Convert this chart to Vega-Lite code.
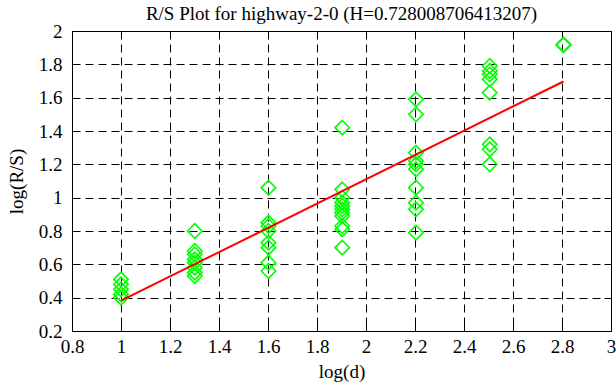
{
  "$schema": "https://vega.github.io/schema/vega-lite/v6.json",
  "width": 539,
  "height": 300,
  "autosize": "none",
  "padding": {"left": 72, "top": 31, "right": 5, "bottom": 56},
  "background": "white",
  "config": {
    "font": "Liberation Serif",
    "view": {"stroke": "black", "strokeWidth": 1},
    "axis": {"labelFont": "Liberation Serif", "titleFont": "Liberation Serif", "labelFontSize": 19, "titleFontSize": 19, "titleFontWeight": "normal", "labelColor": "black", "titleColor": "black", "domain": false}
  },
  "title": {"text": "R/S Plot for highway-2-0 (H=0.728008706413207)", "font": "Liberation Serif", "fontSize": 19, "fontWeight": "normal", "color": "black", "anchor": "middle", "offset": 7, "dy": 9},
  "datasets": {
    "points": [
      {"logd": 1.0, "logrs": 0.51}, {"logd": 1.0, "logrs": 0.48}, {"logd": 1.0, "logrs": 0.45}, {"logd": 1.0, "logrs": 0.42}, {"logd": 1.0, "logrs": 0.40},
      {"logd": 1.301, "logrs": 0.80}, {"logd": 1.301, "logrs": 0.68}, {"logd": 1.301, "logrs": 0.66}, {"logd": 1.301, "logrs": 0.63}, {"logd": 1.301, "logrs": 0.61}, {"logd": 1.301, "logrs": 0.58}, {"logd": 1.301, "logrs": 0.55}, {"logd": 1.301, "logrs": 0.53},
      {"logd": 1.602, "logrs": 1.06}, {"logd": 1.602, "logrs": 0.85}, {"logd": 1.602, "logrs": 0.83}, {"logd": 1.602, "logrs": 0.80}, {"logd": 1.602, "logrs": 0.73}, {"logd": 1.602, "logrs": 0.70}, {"logd": 1.602, "logrs": 0.61}, {"logd": 1.602, "logrs": 0.56},
      {"logd": 1.903, "logrs": 1.42}, {"logd": 1.903, "logrs": 1.05}, {"logd": 1.903, "logrs": 1.00}, {"logd": 1.903, "logrs": 0.97}, {"logd": 1.903, "logrs": 0.95}, {"logd": 1.903, "logrs": 0.93}, {"logd": 1.903, "logrs": 0.91}, {"logd": 1.903, "logrs": 0.89}, {"logd": 1.903, "logrs": 0.83}, {"logd": 1.903, "logrs": 0.81}, {"logd": 1.903, "logrs": 0.70},
      {"logd": 2.204, "logrs": 1.59}, {"logd": 2.204, "logrs": 1.50}, {"logd": 2.204, "logrs": 1.27}, {"logd": 2.204, "logrs": 1.22}, {"logd": 2.204, "logrs": 1.20}, {"logd": 2.204, "logrs": 1.17}, {"logd": 2.204, "logrs": 1.06}, {"logd": 2.204, "logrs": 0.97}, {"logd": 2.204, "logrs": 0.93}, {"logd": 2.204, "logrs": 0.79},
      {"logd": 2.505, "logrs": 1.79}, {"logd": 2.505, "logrs": 1.76}, {"logd": 2.505, "logrs": 1.74}, {"logd": 2.505, "logrs": 1.71}, {"logd": 2.505, "logrs": 1.63}, {"logd": 2.505, "logrs": 1.32}, {"logd": 2.505, "logrs": 1.29}, {"logd": 2.505, "logrs": 1.20},
      {"logd": 2.806, "logrs": 1.92}, {"logd": 2.806, "logrs": 1.915}
    ],
    "fit": [
      {"logd": 1.0, "logrs": 0.382},
      {"logd": 2.806, "logrs": 1.697}
    ]
  },
  "resolve": {"axis": {"x": "independent", "y": "independent"}},
  "layer": [
    {
      "data": {"name": "points"},
      "mark": {"type": "point", "shape": "diamond", "size": 210, "filled": false, "stroke": "#00ff00", "strokeWidth": 1.6, "opacity": 1},
      "encoding": {
        "x": {"field": "logd", "type": "quantitative", "scale": {"domain": [0.8, 3], "nice": false, "zero": false},
          "axis": {"orient": "bottom", "title": "log(d)", "format": "~g", "labelFont": "Liberation Serif", "titleFont": "Liberation Serif", "values": [0.8, 1, 1.2, 1.4, 1.6, 1.8, 2, 2.2, 2.4, 2.6, 2.8, 3], "grid": true, "gridColor": "black", "gridOpacity": 1, "gridDash": [8, 5], "gridWidth": 1, "tickSize": -7, "tickColor": "black", "tickWidth": 1, "labelPadding": 13, "titlePadding": 6, "labelFlush": false, "labelOverlap": false}},
        "y": {"field": "logrs", "type": "quantitative", "scale": {"domain": [0.2, 2], "nice": false, "zero": false},
          "axis": {"orient": "left", "title": "log(R/S)", "format": "~g", "labelFont": "Liberation Serif", "titleFont": "Liberation Serif", "values": [0.2, 0.4, 0.6, 0.8, 1, 1.2, 1.4, 1.6, 1.8, 2], "grid": true, "gridColor": "black", "gridOpacity": 1, "gridDash": [8, 5], "gridWidth": 1, "tickSize": -7, "tickColor": "black", "tickWidth": 1, "labelPadding": 17, "titlePadding": 12, "labelFlush": false, "labelOverlap": false}}
      }
    },
    {
      "data": {"name": "fit"},
      "mark": {"type": "line", "color": "#ff0000", "strokeWidth": 2},
      "encoding": {
        "x": {"field": "logd", "type": "quantitative", "scale": {"domain": [0.8, 3], "nice": false, "zero": false},
          "axis": {"orient": "top", "title": null, "labels": false, "grid": false, "values": [0.8, 1, 1.2, 1.4, 1.6, 1.8, 2, 2.2, 2.4, 2.6, 2.8, 3], "tickSize": -7, "tickColor": "black", "tickWidth": 1}},
        "y": {"field": "logrs", "type": "quantitative", "scale": {"domain": [0.2, 2], "nice": false, "zero": false},
          "axis": {"orient": "right", "title": null, "labels": false, "grid": false, "values": [0.2, 0.4, 0.6, 0.8, 1, 1.2, 1.4, 1.6, 1.8, 2], "tickSize": -7, "tickColor": "black", "tickWidth": 1}}
      }
    }
  ]
}
